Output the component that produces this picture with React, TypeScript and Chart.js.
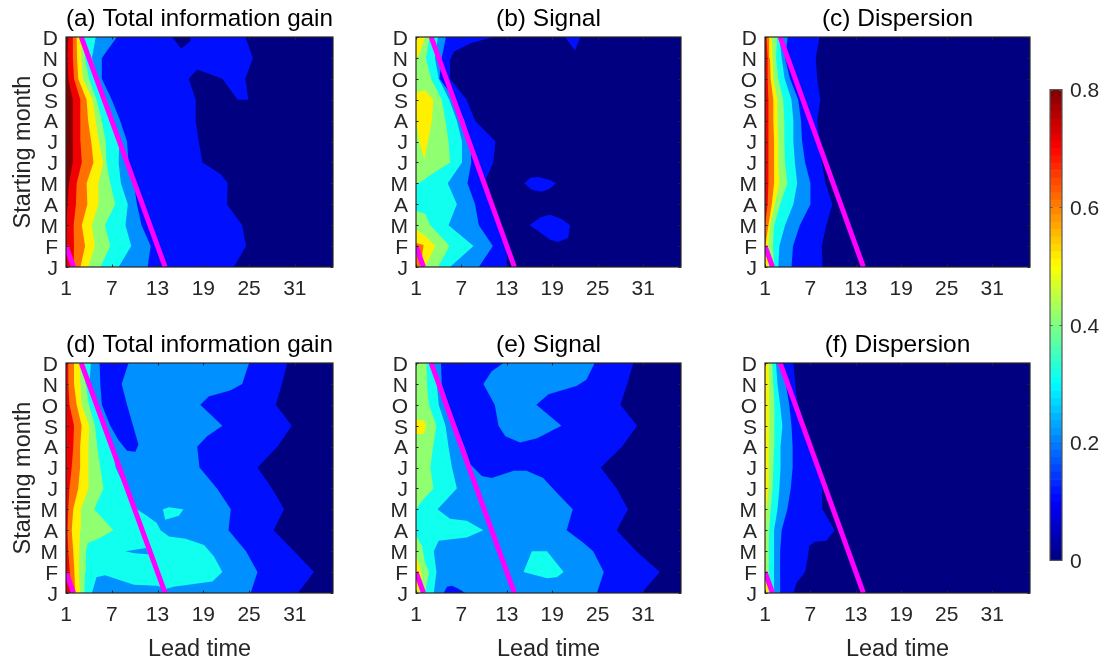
import React, { useEffect, useRef } from "react";
import { Chart, registerables } from "chart.js";

Chart.register(...registerables);

type P = [number, number];
type Layer = [number, P[]];

const MONTHS = ["J", "F", "M", "A", "M", "J", "J", "A", "S", "O", "N", "D"];
const MONTH_TICKS = [1, 2, 3, 4, 5, 6, 7, 8, 9, 10, 11, 12];
const LEAD_TICKS = [1, 7, 13, 19, 25, 31];
const CBAR_TICKS = [0, 0.2, 0.4, 0.6, 0.8];
const CBAR_STEPS = 64;
const CBAR_MAX = 0.8;
const BAND_COLORS = ["#000080", "#0010ff", "#0090ff", "#10ffef", "#90ff70", "#fff000", "#ff7000", "#f00000", "#800000"];

// Predictability limit lines: [lead, starting month]
const LIMIT_MAIN: P[] = [[3, 12], [14, 1]];
const LIMIT_SHORT: P[] = [[1, 2], [2, 1]];
const FULL: P[] = [[1, 1], [36, 1], [36, 12], [1, 12]];

// Contour edges: lead reached at each starting month (J..D) or [lead, month] vertices
const A_L1: P[] = [[23, 1], [24.6, 2], [24.1, 3], [22.1, 4], [22.2, 5], [21.3, 5.43], [18.9, 6], [18.4, 7], [18, 8], [18, 9], [17.1, 10], [18.2, 10.45], [21.5, 10], [23.5, 9], [24.9, 9], [24.5, 10], [25.5, 11], [24.5, 12]];
const A_HOLE: P[] = [[14.9, 12], [16.1, 11.45], [17.3, 11.8], [17.3, 12]];
const A_L2 = [11.7, 12.1, 10.9, 10.3, 9.9, 9.2, 9, 8.1, 7, 5.7, 5.7, 7.67];
const A_L3 = [7.9, 9.55, 8.8, 9.1, 8.2, 7.9, 8, 7.1, 6.1, 5.2, 4.4, 4.9];
const A_L4 = [5.5, 6.8, 6.1, 7.45, 6.8, 6.3, 6.2, 5.7, 5, 4, 3.5, 3.3];
const A_L5 = [3.9, 4.8, 4.4, 5.25, 5.25, 5.9, 5.3, 4.9, 4.5, 3.2, 3, 3];
const A_L6 = [2.9, 3.5, 3.07, 3.8, 3.7, 4.6, 4.3, 3.9, 3.7, 2.6, 2.45, 2.4];
const A_L7 = [2, 2.05, 2, 2.3, 2.4, 3.07, 2.9, 2.9, 2.85, 2.05, 1.9, 1.9];
const A_L8 = [1, 1.1, 1.1, 1.2, 1.4, 1.88, 1.88, 1.9, 1.9, 1.3, 1.2, 1.3];

const B_L1: P[] = [[13, 1], [13, 2], [12.3, 3], [11, 4], [10, 5], [11.2, 6], [11.5, 7], [8.8, 8], [7.7, 9], [5.5, 10], [5.5, 10.9], [6, 11.3], [8.2, 11.7], [11.2, 12]];
const B_ISLE1: P[] = [[20.7, 12], [22.7, 12], [22, 11.35]];
const B_ISLE2: P[] = [[15.3, 5], [16.1, 5.27], [17.2, 5.3], [18.7, 5.16], [19.5, 5], [18.7, 4.76], [17.6, 4.6], [16.3, 4.68]];
const B_ISLE3: P[] = [[16, 3], [17.4, 3.37], [18.7, 3.5], [20.25, 3.3], [21.35, 3], [21.1, 2.4], [19.8, 2.2], [18.7, 2.3], [17.4, 2.65]];
const B_L2 = [9.3, 11.15, 9.3, 8.8, 7.8, 8.3, 8.2, 7.4, 6.2, 4.1, 4.4, 4.96];
const B_L3 = [5.5, 8.6, 5.3, 6.4, 5.2, 7.07, 7.07, 6.4, 5.4, 4, 3.5, 3.9];
const B_L4_TOP: P[] = [[1, 5], [1.6, 5.05], [2.9, 5.4], [5.5, 6], [5.3, 7], [4.9, 8], [4.4, 9], [3, 10], [2.3, 11], [2.8, 12], [1, 12]];
const B_L4_LOW: P[] = [[1, 3.68], [2.2, 3.55], [2.9, 3], [5.45, 2], [3.9, 1], [1, 1]];
const B_L5_MID: P[] = [[1, 9.35], [2.2, 9.45], [3.3, 9], [3.1, 8], [2.1, 6.15], [1.4, 7], [1, 8]];
const B_L5_TOP: P[] = [[1, 12], [2.2, 12], [1.4, 11.15], [1, 11]];
const B_L5_LOW: P[] = [[1, 2.8], [2.2, 2.5], [3.55, 2], [2.2, 1], [1, 1]];
const B_L6: P[] = [[1, 2.15], [2, 2.05], [1.6, 1], [1, 1]];

const C_L1 = [8.6, 8.5, 9.1, 9.9, 9, 8.5, 8.2, 7.9, 8.3, 7.9, 7.7, 8.2];
const C_L2 = [4.5, 4.7, 5.6, 7, 7, 6.3, 5.9, 5.75, 5.4, 4.3, 3.65, 4];
const C_L3 = [2.75, 2.9, 3.65, 4.75, 5.25, 4.95, 4.75, 4.75, 4.5, 3.6, 3.2, 2.9];
const C_L4 = [2.2, 2.05, 2.2, 3, 3.95, 3.65, 3.55, 3.55, 3.4, 2.75, 2.45, 2.6];
const C_L5 = [1.5, 1.45, 1.65, 2.3, 2.9, 2.75, 2.75, 2.65, 2.65, 2.1, 2, 1.9];
const C_L6 = [1, 1.1, 1.45, 1.9, 2.2, 2.2, 2.2, 2.1, 2.1, 1.75, 1.65, 1.55];
const C_L7 = [1, 1, 1.05, 1.35, 1.45, 1.45, 1.45, 1.45, 1.45, 1.35, 1.35, 1.2];

const D_L1 = [31.4, 33.5, 30.9, 28.2, 29.6, 28, 26.1, 28.7, 30.6, 28.5, 29.3, 30];
const D_L2: P[] = [[25.2, 1], [26.1, 2], [24.6, 3], [22.3, 4], [22.6, 5], [20.8, 6], [18.5, 7], [18.2, 8], [19.5, 8.5], [21.5, 9], [18.6, 10], [19.7, 10.4], [22.6, 10.7], [24.1, 11], [25, 12]];
const D_HOLE: P[] = [[5.4, 12], [9.2, 12], [8.3, 11], [9, 10], [10.5, 8.1], [10.1, 7.75], [9, 7.8], [7.9, 8.3], [6.8, 9], [5.7, 10], [5.5, 11]];
const D_L3: P[] = [[4.4, 1], [5, 1.75], [6.1, 1.85], [9.9, 1.4], [12.9, 1.35], [14.2, 1.2], [15.1, 1.3], [20.2, 1.55], [21.5, 2], [20.4, 2.75], [19.1, 3.3], [16.7, 3.6], [14.5, 3.7], [13.4, 4], [12.9, 4.35], [11.6, 4.7], [10.3, 5], [8.8, 6], [7.5, 7], [7, 8], [6, 9], [5, 10], [4.1, 11], [4.25, 12]];
const D_ISLE: P[] = [[13.7, 5], [14.5, 5.1], [16.4, 5], [15.8, 4.7], [14, 4.5]];
const D_SLIVER: P[] = [[8.8, 3], [11.5, 3.15], [11.8, 2.85], [10, 2.9]];
const D_L4: P[] = [[3.4, 1], [3.5, 2], [3.6, 3], [3.9, 3.4], [5.25, 3.6], [7.2, 4], [4.7, 5], [5.9, 6], [5.5, 7], [5.1, 8], [4.8, 9], [4, 10], [3.6, 11], [3.5, 12]];
const D_L5 = [2.85, 2.7, 2.75, 2.85, 2.95, 3.95, 3.95, 3.95, 4.05, 3.05, 2.9, 2.85];
const D_L6 = [2.2, 2.1, 1.95, 1.75, 1.95, 2.6, 2.85, 2.85, 3.05, 2.4, 2.05, 2.05];
const D_L7 = [1.75, 1.5, 1.3, 1.2, 1.3, 1.45, 1.75, 1.95, 2.05, 1.45, 1.3, 1.3];

const E_L1 = [30.8, 33.2, 30.1, 27.5, 29, 27.5, 25.4, 28.2, 30.2, 28, 28.9, 29.7];
const E_L2_LOW: P[] = [[24.9, 1], [25.8, 2], [24.4, 3], [23.1, 3.4], [20.9, 4], [21.7, 5], [19.6, 5.8], [17.8, 6.5], [15.6, 6.85], [13.9, 6.85], [11, 6.5], [9.7, 6.6], [8.2, 7.15], [7.4, 8], [6.3, 9], [5.3, 10], [4.4, 11], [4.3, 12]];
const E_PATCH: P[] = [[4.65, 1], [5.1, 1.3], [5.75, 1.35], [6.6, 1.2], [7.5, 1]];
const E_L2_TOP: P[] = [[12.55, 12], [11, 11.6], [9.9, 11], [10.8, 10.4], [11.4, 10], [11.9, 9], [12.8, 8.5], [14.75, 8.2], [17, 8.4], [20.2, 9], [16.9, 10], [18.5, 10.5], [22.2, 10.9], [23.5, 11.2], [24.6, 12]];
const E_L3: P[] = [[3.35, 1], [3.7, 2], [3.35, 3], [4, 3.5], [7.7, 3.65], [9.9, 4], [7.7, 4.45], [5.5, 4.55], [3.85, 5], [6.4, 6], [5.75, 7], [5.3, 8], [4.9, 9], [4, 10], [3.75, 11], [3, 12]];
const E_ISLE: P[] = [[16.3, 3], [18.3, 3], [20.5, 2], [19.6, 1.75], [18.3, 1.7], [15.2, 2]];
const E_L4_TOP: P[] = [[1, 12], [2.4, 12], [2.45, 11], [2.7, 10], [3.7, 9], [3.25, 8], [2.9, 7], [3.3, 6], [2, 5.5], [1, 5]];
const E_L4_LOW: P[] = [[1, 3.75], [1.8, 3.25], [2.2, 2.45], [2.7, 2], [2.2, 1], [1, 1]];
const E_L5_MID: P[] = [[1, 9.3], [2, 9.25], [2.35, 9], [2, 8.6], [1, 8.6]];
const E_L5_LOW: P[] = [[1, 2.75], [1.35, 2.45], [1.8, 1.8], [1.35, 1], [1, 1]];

const F_L1: P[] = [[4.75, 1], [5.2, 1.5], [6.3, 2], [6.6, 2.6], [6.85, 3.25], [7.6, 3.45], [9.1, 3.5], [10.2, 4], [8.6, 5], [8.55, 6], [7.9, 7], [7, 8], [6.1, 9], [5.3, 10], [5, 11], [4.75, 12]];
const F_L2 = [3, 3, 3, 3.2, 3.95, 4.4, 4.65, 4.65, 4.5, 4.2, 3.75, 3.3];
const F_L3 = [2.2, 2.2, 2.2, 2.2, 2.65, 2.9, 3.05, 3.05, 3.3, 3, 2.65, 2.45];
const F_L4 = [1.65, 1.5, 1.5, 1.55, 1.75, 2, 2.1, 2.2, 2.3, 2.2, 2.1, 1.95];
const F_L5 = [1.45, 1.1, 1.05, 1.1, 1.2, 1.45, 1.5, 1.5, 1.55, 1.55, 1.55, 1.5];

const rows = (leads: number[]): P[] => leads.map((x, i) => [x, i + 1] as P);
const edge = (leads: number[]): P[] => [[1, 1], ...rows(leads), [1, 12]];
const closed = (pts: P[]): P[] => [[1, 1], ...pts, [1, 12]];

const PANEL_A: Layer[] = [[0, FULL], [1, closed(A_L1)], [0, A_HOLE], [2, edge(A_L2)], [3, edge(A_L3)], [4, edge(A_L4)], [5, edge(A_L5)], [6, edge(A_L6)], [7, edge(A_L7)], [8, edge(A_L8)]];
const PANEL_B: Layer[] = [[0, FULL], [1, closed(B_L1)], [1, B_ISLE1], [1, B_ISLE2], [1, B_ISLE3], [2, edge(B_L2)], [3, edge(B_L3)], [4, B_L4_TOP], [4, B_L4_LOW], [5, B_L5_MID], [5, B_L5_TOP], [5, B_L5_LOW], [6, B_L6]];
const PANEL_C: Layer[] = [[0, FULL], [1, edge(C_L1)], [2, edge(C_L2)], [3, edge(C_L3)], [4, edge(C_L4)], [5, edge(C_L5)], [6, edge(C_L6)], [7, edge(C_L7)]];
const PANEL_D: Layer[] = [[0, FULL], [1, edge(D_L1)], [2, closed(D_L2)], [1, D_HOLE], [3, closed(D_L3)], [3, D_ISLE], [2, D_SLIVER], [4, closed(D_L4)], [5, edge(D_L5)], [6, edge(D_L6)], [7, edge(D_L7)]];
const PANEL_E: Layer[] = [[0, FULL], [1, edge(E_L1)], [2, closed(E_L2_LOW)], [1, E_PATCH], [2, E_L2_TOP], [3, closed(E_L3)], [3, E_ISLE], [4, E_L4_TOP], [4, E_L4_LOW], [5, E_L5_MID], [5, E_L5_LOW]];
const PANEL_F: Layer[] = [[0, FULL], [1, closed(F_L1)], [2, edge(F_L2)], [3, edge(F_L3)], [4, edge(F_L4)], [5, edge(F_L5)]];

const PANELS = [
  { title: "(a) Total information gain", layers: PANEL_A, x: 66, w: 267, y: 37, left: true, bottom: false },
  { title: "(b) Signal", layers: PANEL_B, x: 416, w: 265, y: 37, left: false, bottom: false },
  { title: "(c) Dispersion", layers: PANEL_C, x: 765, w: 265, y: 37, left: false, bottom: false },
  { title: "(d) Total information gain", layers: PANEL_D, x: 66, w: 267, y: 363, left: true, bottom: true },
  { title: "(e) Signal", layers: PANEL_E, x: 416, w: 265, y: 363, left: false, bottom: true },
  { title: "(f) Dispersion", layers: PANEL_F, x: 765, w: 265, y: 363, left: false, bottom: true },
];

const PLOT_H = 230;
const AXIS_LEFT = 66;
const TITLE_H = 32;
const FONT = "'Liberation Sans', Arial, sans-serif";
const INK = "#262626";

const clamp = (v: number) => Math.max(0, Math.min(1, v));
const jet = (t: number) => {
  const r = clamp(Math.min(4 * t - 1.5, -4 * t + 4.5));
  const g = clamp(Math.min(4 * t - 0.5, -4 * t + 3.5));
  const b = clamp(Math.min(4 * t + 0.5, -4 * t + 2.5));
  return `rgb(${Math.round(r * 255)},${Math.round(g * 255)},${Math.round(b * 255)})`;
};

const boxTicks = {
  id: "boxTicks",
  afterDatasetsDraw(chart: any, _a: any, opts: any) {
    const { ctx, chartArea: ca, scales } = chart;
    ctx.save();
    ctx.strokeStyle = opts.color || INK;
    ctx.lineWidth = 1;
    ctx.beginPath();
    const tl = 2.5;
    const sx = scales.x;
    if (sx && sx.options.display !== false) {
      for (const t of sx.ticks) {
        const p = Math.round(sx.getPixelForValue(t.value)) + 0.5;
        ctx.moveTo(p, ca.bottom);
        ctx.lineTo(p, ca.bottom - tl);
        ctx.moveTo(p, ca.top);
        ctx.lineTo(p, ca.top + tl);
      }
    }
    const sy = scales.y;
    for (const t of sy.ticks) {
      const p = Math.round(sy.getPixelForValue(t.value)) + 0.5;
      ctx.moveTo(ca.left, p);
      ctx.lineTo(ca.left + tl, p);
      ctx.moveTo(ca.right, p);
      ctx.lineTo(ca.right - tl, p);
    }
    ctx.stroke();
    ctx.lineWidth = 1.2;
    ctx.strokeRect(ca.left, ca.top, ca.right - ca.left, ca.bottom - ca.top);
    ctx.restore();
  },
};

function Panel({ p }: { p: (typeof PANELS)[number] }) {
  const ref = useRef<HTMLCanvasElement>(null);
  const xH = p.bottom ? 72 : 36;
  const width = AXIS_LEFT + p.w + 3;
  const height = TITLE_H + PLOT_H + xH;
  useEffect(() => {
    const limit = (pts: P[]) => ({
      data: pts.map(([x, y]) => ({ x, y })),
      showLine: true,
      borderColor: "#ff00ff",
      borderWidth: 5,
      pointRadius: 0,
      fill: false,
    });
    const chart = new Chart(ref.current!, {
      type: "scatter",
      data: {
        // Chart.js paints the first dataset on top, so the stack is listed top-down.
        datasets: [
          limit(LIMIT_MAIN),
          limit(LIMIT_SHORT),
          ...[...p.layers].reverse().map(([band, pts]) => ({
            data: pts.map(([x, y]) => ({ x, y })),
            showLine: true,
            borderWidth: 0,
            pointRadius: 0,
            backgroundColor: BAND_COLORS[band],
            fill: "shape",
          })),
        ],
      },
      options: {
        animation: false,
        responsive: false,
        devicePixelRatio: 1,
        layout: { padding: { right: 3, left: 0, top: 0, bottom: 0 } },
        plugins: {
          legend: { display: false },
          tooltip: { enabled: false },
          title: {
            display: true,
            text: p.title,
            fullSize: false,
            color: "#000",
            font: { family: FONT, size: 24.5, weight: "normal", lineHeight: "28px" },
            padding: { top: 0, bottom: 4 },
          },
          boxTicks: {},
        },
        scales: {
          x: {
            type: "linear",
            min: 1,
            max: 36,
            grid: { display: false, drawTicks: false },
            border: { display: false },
            afterBuildTicks: (s: any) => { s.ticks = LEAD_TICKS.map((value) => ({ value })); },
            afterFit: (s: any) => { s.height = xH; },
            ticks: { color: INK, padding: 10, maxRotation: 0, autoSkip: false, font: { family: FONT, size: 21 }, callback: (v: any) => String(v) },
            title: { display: p.bottom, text: "Lead time", color: INK, padding: { top: 0, bottom: 1 }, font: { family: FONT, size: 23.5, weight: "normal" } },
          },
          y: {
            type: "linear",
            min: 1,
            max: 12,
            grid: { display: false, drawTicks: false },
            border: { display: false },
            afterBuildTicks: (s: any) => { s.ticks = MONTH_TICKS.map((value) => ({ value })); },
            afterFit: (s: any) => { s.width = AXIS_LEFT; },
            ticks: { color: INK, padding: 8, labelOffset: 2, autoSkip: false, font: { family: FONT, size: 21 }, callback: (v: any) => MONTHS[Number(v) - 1] },
            title: { display: p.left, text: "Starting month", color: INK, padding: { top: 9, bottom: 0 }, font: { family: FONT, size: 23.5, weight: "normal" } },
          },
        },
      } as any,
      plugins: [boxTicks],
    } as any);
    return () => chart.destroy();
  }, []);
  return (
    <canvas
      ref={ref}
      width={width}
      height={height}
      style={{ position: "absolute", left: p.x - AXIS_LEFT, top: p.y - TITLE_H, width, height }}
    />
  );
}

function ColorBar() {
  const ref = useRef<HTMLCanvasElement>(null);
  useEffect(() => {
    const steps = Array.from({ length: CBAR_STEPS }, (_, i) => i);
    const chart = new Chart(ref.current!, {
      type: "bar",
      data: {
        labels: [""],
        datasets: steps.map((i) => ({
          data: [CBAR_MAX / CBAR_STEPS],
          backgroundColor: jet((i + 0.5) / CBAR_STEPS),
          borderWidth: 0,
          barPercentage: 1,
          categoryPercentage: 1,
          stack: "c",
        })),
      },
      options: {
        animation: false,
        responsive: false,
        devicePixelRatio: 1,
        layout: { padding: { top: 0, bottom: 0, left: 2, right: 0 } },
        plugins: { legend: { display: false }, tooltip: { enabled: false }, boxTicks: { color: "#555" } },
        scales: {
          x: { stacked: true, display: false },
          y: {
            stacked: true,
            position: "right",
            min: 0,
            max: CBAR_MAX,
            grid: { display: false, drawTicks: false },
            border: { display: false },
            afterBuildTicks: (s: any) => { s.ticks = CBAR_TICKS.map((value) => ({ value })); },
            afterFit: (s: any) => { s.width = 43; },
            ticks: { color: INK, padding: 8, labelOffset: 2, autoSkip: false, font: { family: FONT, size: 21 }, callback: (v: any) => String(v) },
          },
        },
      } as any,
      plugins: [boxTicks],
    } as any);
    return () => chart.destroy();
  }, []);
  return (
    <canvas
      ref={ref}
      width={57}
      height={512}
      style={{ position: "absolute", left: 1048, top: 69, width: 57, height: 512 }}
    />
  );
}

export default function App() {
  return (
    <div style={{ position: "fixed", left: 0, top: 0, width: 1105, height: 666, background: "#fff", overflow: "hidden" }}>
      {PANELS.map((p) => (
        <Panel key={p.title} p={p} />
      ))}
      <ColorBar />
    </div>
  );
}
